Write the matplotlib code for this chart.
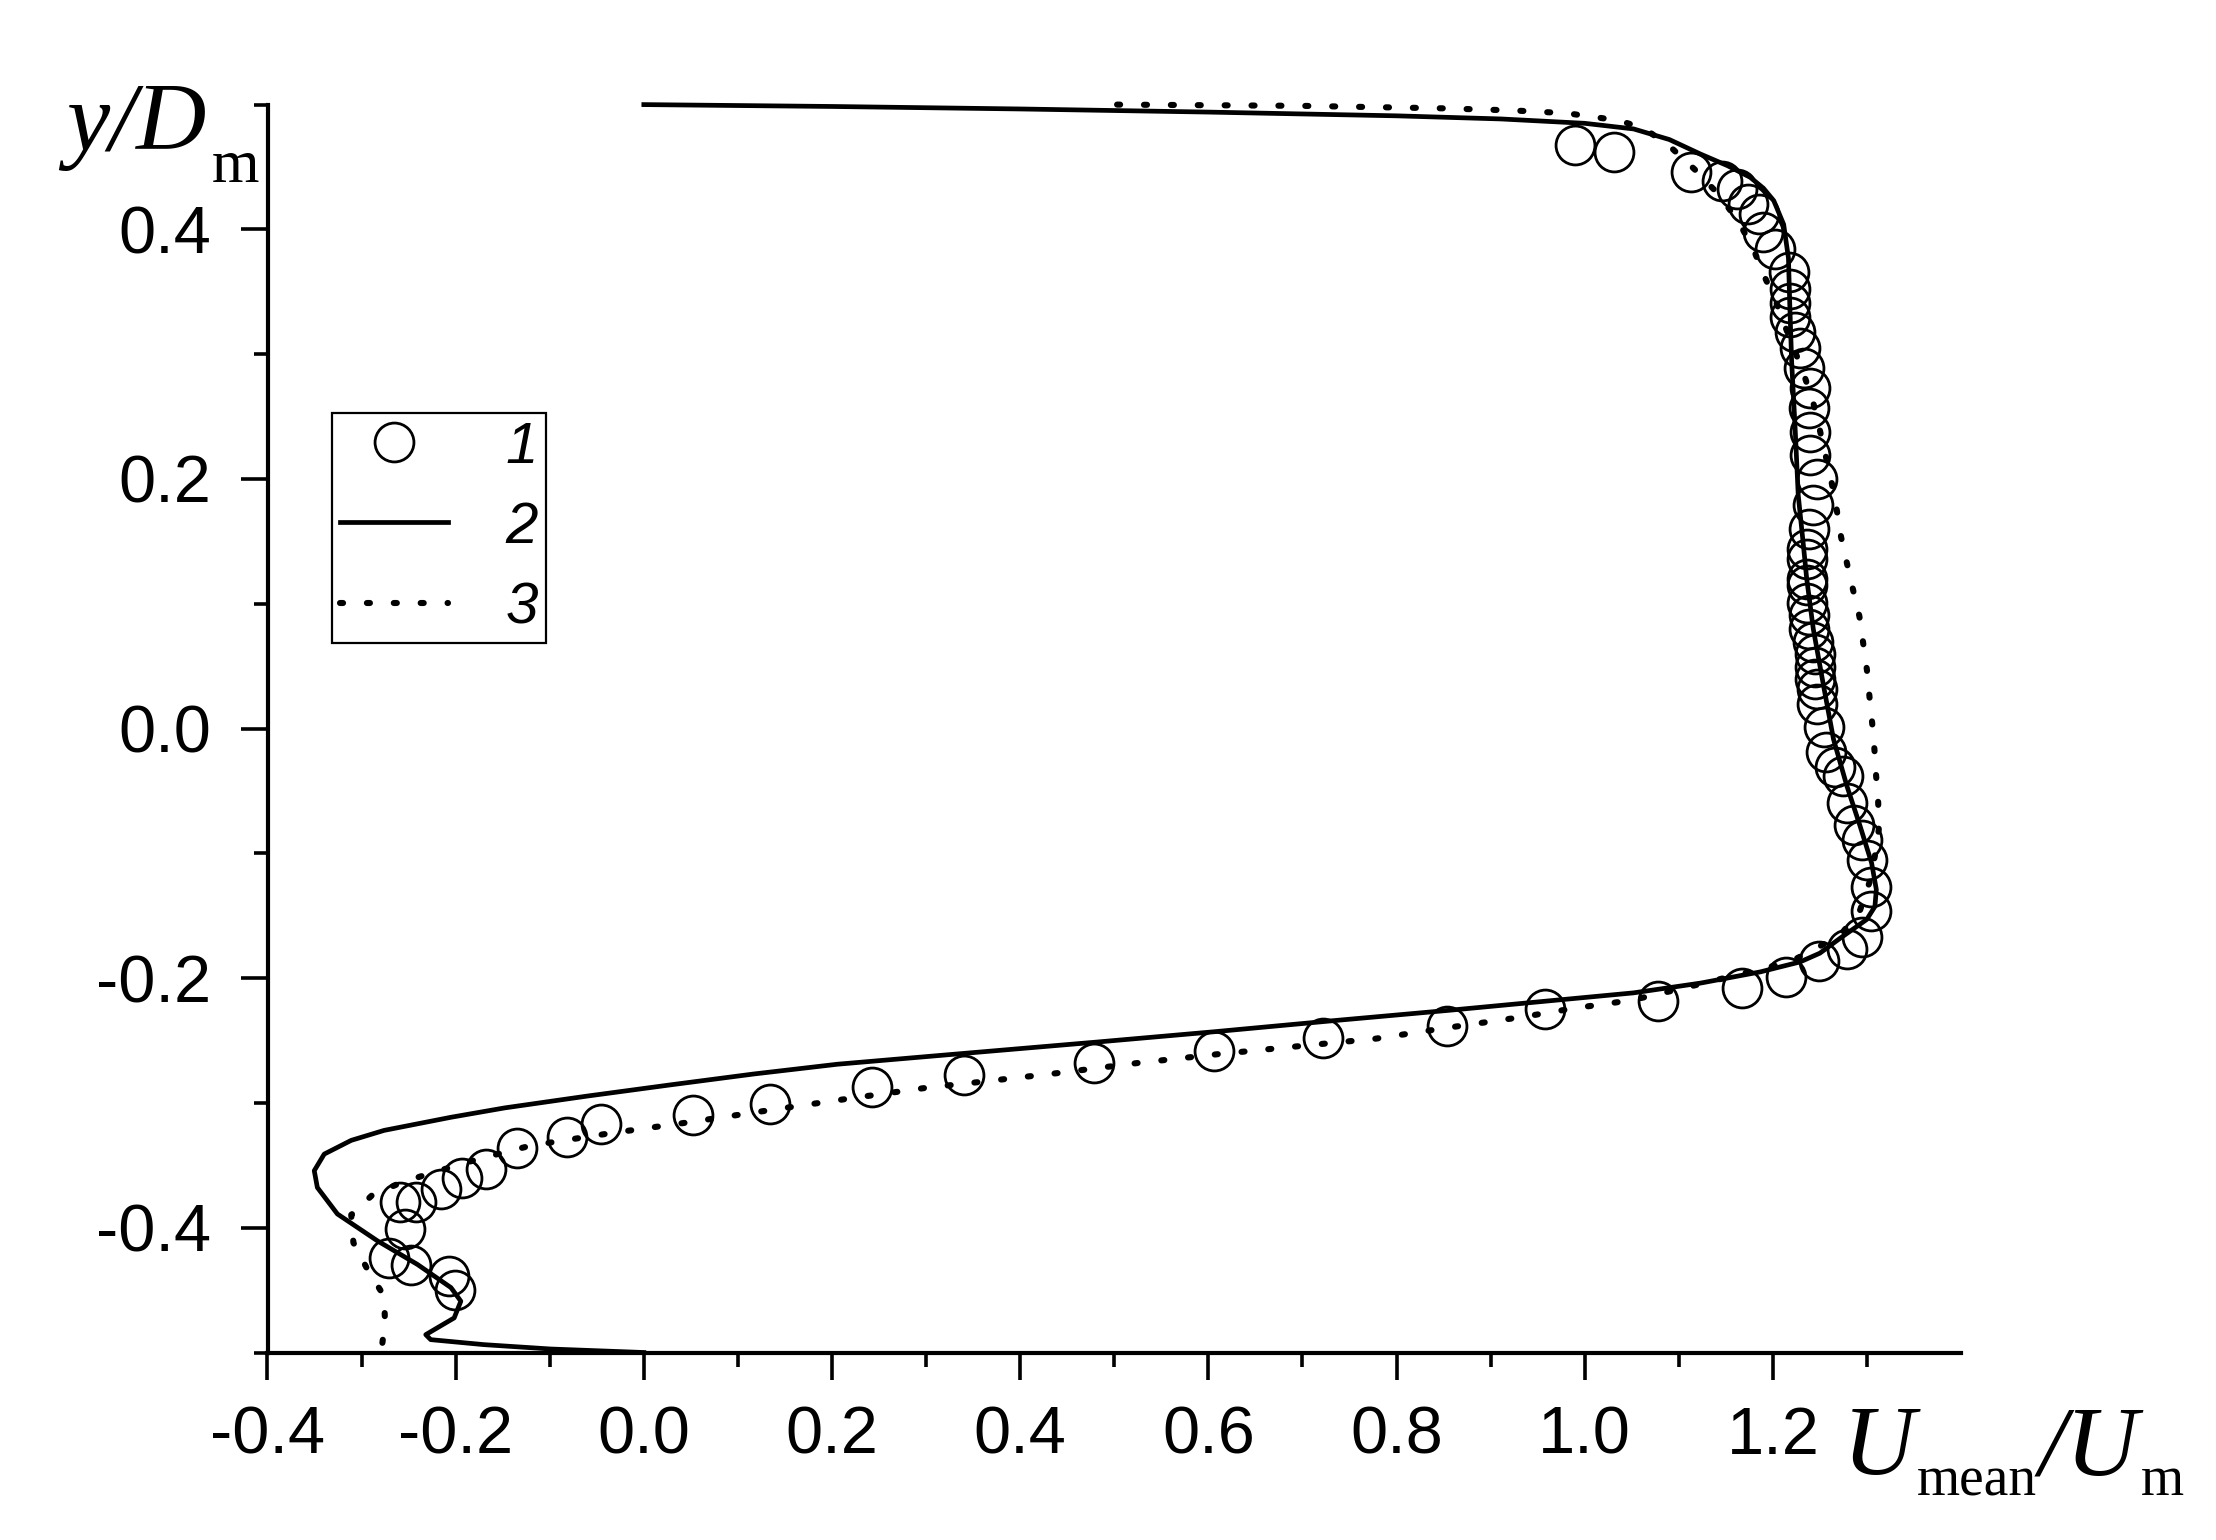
import numpy as np
import matplotlib
matplotlib.use("Agg")
import matplotlib.pyplot as plt
from matplotlib.ticker import FixedLocator

plt.rcParams['axes.unicode_minus'] = False

# 1 - measurements (hollow circles)
circ_u = [0.990, 1.031, 1.113, 1.146, 1.162, 1.174, 1.185, 1.190, 1.202, 1.217,
          1.218, 1.218, 1.218, 1.224, 1.229, 1.233, 1.240, 1.238, 1.240, 1.240,
          1.247, 1.243, 1.238, 1.236, 1.236, 1.236, 1.236, 1.236, 1.238, 1.238,
          1.243, 1.245, 1.245, 1.245, 1.247, 1.247, 1.254, 1.257, 1.266, 1.275,
          1.279, 1.286, 1.295, 1.300, 1.304, 1.304, 1.295, 1.279, 1.249, 1.214,
          1.167, 1.078, 0.958, 0.854, 0.722, 0.606, 0.479, 0.340, 0.243, 0.134,
          0.052, -0.046, -0.082, -0.135, -0.168, -0.193, -0.216, -0.242, -0.259, -0.254,
          -0.271, -0.247, -0.207, -0.201]
circ_y = [0.468, 0.462, 0.446, 0.439, 0.432, 0.420, 0.412, 0.398, 0.384, 0.366,
          0.352, 0.341, 0.330, 0.318, 0.305, 0.289, 0.273, 0.257, 0.238, 0.219,
          0.200, 0.179, 0.160, 0.144, 0.136, 0.120, 0.115, 0.101, 0.091, 0.080,
          0.069, 0.060, 0.049, 0.040, 0.032, 0.020, 0.001, -0.019, -0.031, -0.038,
          -0.060, -0.077, -0.089, -0.105, -0.127, -0.146, -0.167, -0.177, -0.186, -0.199,
          -0.208, -0.218, -0.225, -0.238, -0.248, -0.258, -0.268, -0.278, -0.287, -0.301,
          -0.310, -0.317, -0.327, -0.336, -0.353, -0.360, -0.369, -0.379, -0.379, -0.401,
          -0.424, -0.430, -0.439, -0.450]

# 2 - solid curve
sol_u = [0.000, 0.200, 0.400, 0.600, 0.800, 0.911, 1.000, 1.052, 1.090, 1.123,
         1.152, 1.176, 1.190, 1.201, 1.2115, 1.2166, 1.218, 1.220, 1.2237, 1.227,
         1.2325, 1.236, 1.243, 1.2539, 1.2645, 1.2787, 1.2928, 1.305, 1.310, 1.3085,
         1.2998, 1.2716, 1.250, 1.229, 1.1867, 1.123, 1.052, 0.857, 0.7298, 0.6057,
         0.482, 0.3155, 0.2057, 0.117, 0.0286, -0.060, -0.148, -0.205, -0.276, -0.311,
         -0.3397, -0.3503, -0.347, -0.3257, -0.283, -0.2407, -0.205, -0.1945, -0.2016, -0.219,
         -0.2318, -0.2265, -0.170, -0.099, 0.000]
sol_y = [0.500, 0.4985, 0.4965, 0.4940, 0.4910, 0.4885, 0.4850, 0.4805, 0.4720, 0.4604,
         0.4510, 0.4417, 0.4330, 0.4230, 0.4040, 0.3770, 0.3400, 0.2940, 0.2407, 0.1870,
         0.1468, 0.1200, 0.0798, 0.0343, -0.0086, -0.0460, -0.0783, -0.1078, -0.1290, -0.1426,
         -0.1530, -0.1680, -0.1800, -0.1870, -0.1950, -0.2040, -0.2118, -0.2257, -0.2343, -0.2430,
         -0.2512, -0.2619, -0.2690, -0.2768, -0.2855, -0.2945, -0.3040, -0.3115, -0.3220, -0.3300,
         -0.3410, -0.3543, -0.3678, -0.3890, -0.4106, -0.4294, -0.4480, -0.4589, -0.4723, -0.4800,
         -0.4857, -0.4897, -0.4937, -0.4972, -0.5000]

# 3 - dotted curve
dot_u = [0.503, 0.700, 0.850, 0.9245, 0.981, 1.037, 1.0642, 1.0915, 1.117, 1.1424,
         1.163, 1.179, 1.190, 1.2025, 1.213, 1.2237, 1.2338, 1.243, 1.250, 1.2564,
         1.2627, 1.268, 1.2725, 1.2787, 1.285, 1.292, 1.296, 1.300, 1.3027, 1.3056,
         1.308, 1.3098, 1.312, 1.3126, 1.3085, 1.3027, 1.2928, 1.274, 1.2468, 1.218,
         1.105, 1.050, 0.990, 0.935, 0.852, 0.778, 0.694, 0.6093, 0.525, 0.441,
         0.356, 0.300, 0.2163, 0.132, 0.048, -0.0358, -0.1201, -0.1761, -0.2316, -0.260,
         -0.2886, -0.311, -0.3087, -0.2938, -0.276, -0.2751, -0.2786, -0.280]
dot_y = [0.500, 0.499, 0.497, 0.4953, 0.4931, 0.4872, 0.4805, 0.4658, 0.4480, 0.4280,
         0.4068, 0.3850, 0.3640, 0.3438, 0.3224, 0.3020, 0.2820, 0.2610, 0.2390, 0.2179,
         0.1964, 0.1750, 0.1536, 0.1327, 0.1120, 0.0900, 0.0686, 0.0470, 0.0257, 0.0043,
         -0.0169, -0.0380, -0.0595, -0.0810, -0.1019, -0.1233, -0.1453, -0.1635, -0.1760, -0.1870,
         -0.2080, -0.2177, -0.2240, -0.2310, -0.2400, -0.2485, -0.2547, -0.2610, -0.2680, -0.2760,
         -0.2833, -0.2879, -0.2967, -0.3060, -0.3155, -0.3243, -0.3342, -0.3450, -0.3575, -0.3645,
         -0.3738, -0.3897, -0.4120, -0.4334, -0.4549, -0.4763, -0.4964, -0.5000]

labels = ['1', '2', '3']
x_ticks = [-0.4, -0.2, 0.0, 0.2, 0.4, 0.6, 0.8, 1.0, 1.2]
y_ticks = [-0.4, -0.2, 0.0, 0.2, 0.4]

sans = ['Liberation Sans Narrow', 'Liberation Sans', 'DejaVu Sans']
serif = ['Liberation Serif', 'DejaVu Serif']

fig = plt.figure(figsize=(11.08, 7.70), dpi=200)
ax = fig.add_axes([267.5 / 2216, 1 - 1352.5 / 1540, (1961 - 267.5) / 2216, (1352.5 - 104.6) / 1540])

ax.plot(circ_u, circ_y, 'o', ms=14, mfc='none', mec='black', mew=1.0, label=labels[0], clip_on=False)
ax.plot(sol_u, sol_y, '-', color='black', lw=1.7, label=labels[1], clip_on=False)
ax.plot(dot_u, dot_y, color='black', lw=2.2, dashes=(0.5, 3.9), dash_capstyle='round',
        label=labels[2], clip_on=False)

ax.set_xlim(-0.4, 1.4)
ax.set_ylim(-0.5, 0.5)
ax.xaxis.set_major_locator(FixedLocator(x_ticks))
ax.xaxis.set_minor_locator(FixedLocator(np.round(np.arange(-0.3, 1.35, 0.2), 2)))
ax.yaxis.set_major_locator(FixedLocator(y_ticks))
ax.yaxis.set_minor_locator(FixedLocator(np.round(np.arange(-0.5, 0.55, 0.2), 2)))
ax.set_xticklabels(['%.1f' % v for v in x_ticks])
ax.set_yticklabels(['%.1f' % v for v in y_ticks])

for s in ['top', 'right']:
    ax.spines[s].set_visible(False)
for s in ['left', 'bottom']:
    ax.spines[s].set_linewidth(1.5)

ax.tick_params(which='major', direction='out', length=9.7, width=1.3)
ax.tick_params(which='minor', direction='out', length=5, width=1.3)
ax.tick_params(axis='x', which='major', pad=9.5)
ax.tick_params(axis='y', which='major', pad=10.6)
for lab in ax.get_xticklabels() + ax.get_yticklabels():
    lab.set_family(sans)
    lab.set_fontsize(24)

leg = ax.legend(loc='upper left', bbox_to_anchor=(332 / 2216, 1 - 413 / 1540),
                bbox_transform=fig.transFigure, borderaxespad=0, numpoints=1,
                handlelength=1.85, handletextpad=1.0, borderpad=0.13, labelspacing=0.45,
                fancybox=False, framealpha=1, edgecolor='black',
                prop={'family': ['Liberation Sans', 'DejaVu Sans'], 'style': 'italic', 'size': 21})
leg.get_frame().set_linewidth(0.8)

# axis titles with big italic letters and upright subscripts
fig.text(66 / 2216, 1 - 150 / 1540, 'y/D', family=serif, style='italic', fontsize=35, va='baseline')
fig.text(212 / 2216, 1 - 182 / 1540, 'm', family=serif, fontsize=22, va='baseline')
fig.text(1843 / 2216, 1 - 1474 / 1540, 'U', family=serif, style='italic', fontsize=36, va='baseline')
fig.text(1917 / 2216, 1 - 1495 / 1540, 'mean', family=serif, fontsize=20, va='baseline')
fig.text(2039 / 2216, 1 - 1474 / 1540, '/U', family=serif, style='italic', fontsize=36, va='baseline')
fig.text(2141 / 2216, 1 - 1495 / 1540, 'm', family=serif, fontsize=20, va='baseline')

fig.savefig('out.png', dpi=200)
